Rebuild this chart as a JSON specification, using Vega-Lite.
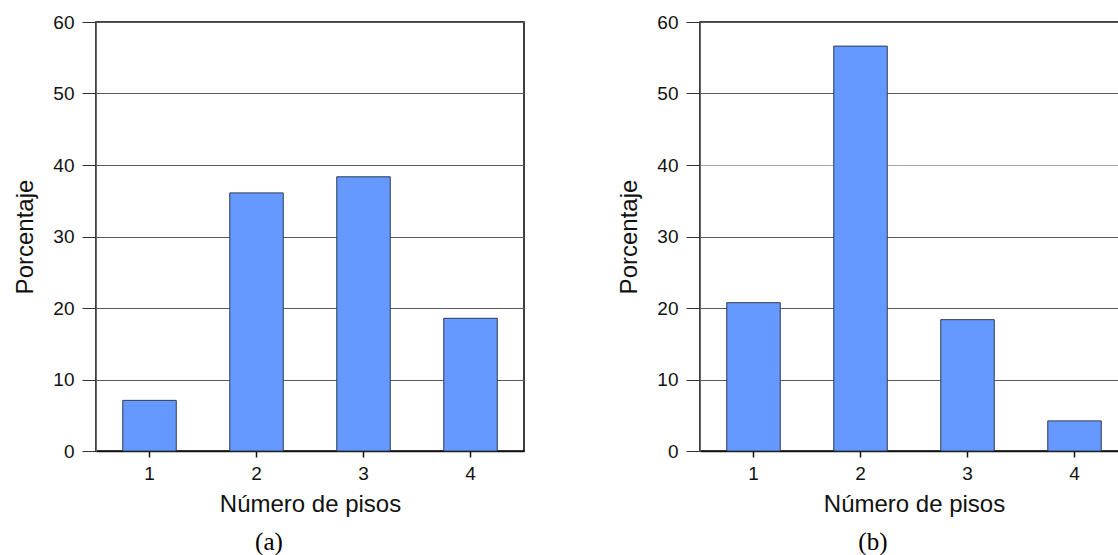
{
  "$schema": "https://vega.github.io/schema/vega-lite/v6.json",
  "background": "white",
  "padding": {"left": 13, "top": 12, "right": 0, "bottom": 0},
  "spacing": 176,
  "bounds": "flush",
  "datasets": {
    "a": [
      {"pisos": "1", "pct": 7.08},
      {"pisos": "2", "pct": 36.1},
      {"pisos": "3", "pct": 38.35},
      {"pisos": "4", "pct": 18.56}
    ],
    "b": [
      {"pisos": "1", "pct": 20.74},
      {"pisos": "2", "pct": 56.63},
      {"pisos": "3", "pct": 18.37},
      {"pisos": "4", "pct": 4.21}
    ]
  },
  "config": {
    "view": {"stroke": "#000000", "strokeWidth": 1.5},
    "axis": {
      "labelFont": "Liberation Sans",
      "labelFontSize": 19,
      "labelColor": "#111111",
      "titleFont": "Liberation Sans",
      "titleFontSize": 24,
      "titleFontWeight": "normal",
      "titleColor": "#111111"
    },
    "axisY": {
      "tickSize": 14,
      "labelPadding": 8,
      "tickColor": "#333333",
      "domainColor": "#666666",
      "gridColor": "#5a5a5a",
      "gridOpacity": 1,
      "titlePadding": 15
    },
    "axisX": {
      "tickSize": 6,
      "labelPadding": 7,
      "labelAngle": 0,
      "domainColor": "#111111",
      "domainWidth": 1.5,
      "tickColor": "#111111",
      "tickWidth": 1.5,
      "titlePadding": 9,
      "grid": false
    },
    "title": {
      "font": "Liberation Serif",
      "fontSize": 25,
      "fontWeight": "normal",
      "color": "#000000",
      "orient": "bottom",
      "anchor": "middle",
      "frame": "bounds",
      "offset": 14
    }
  },
  "hconcat": [
    {
      "width": 428,
      "height": 429,
      "title": "(a)",
      "data": {"name": "a"},
      "mark": {"type": "bar", "fill": "#6699ff", "stroke": "#2d3a55", "strokeWidth": 1},
      "encoding": {
        "x": {
          "field": "pisos",
          "type": "ordinal",
          "title": "Número de pisos",
          "scale": {"paddingInner": 0.5, "paddingOuter": 0.25}
        },
        "y": {
          "field": "pct",
          "type": "quantitative",
          "title": "Porcentaje",
          "scale": {"domain": [0, 60], "nice": false},
          "axis": {"values": [0, 10, 20, 30, 40, 50, 60]}
        }
      }
    },
    {
      "width": 428,
      "height": 429,
      "title": "(b)",
      "data": {"name": "b"},
      "mark": {"type": "bar", "fill": "#6699ff", "stroke": "#2d3a55", "strokeWidth": 1},
      "encoding": {
        "x": {
          "field": "pisos",
          "type": "ordinal",
          "title": "Número de pisos",
          "scale": {"paddingInner": 0.5, "paddingOuter": 0.25}
        },
        "y": {
          "field": "pct",
          "type": "quantitative",
          "title": "Porcentaje",
          "scale": {"domain": [0, 60], "nice": false},
          "axis": {
            "values": [0, 10, 20, 30, 40, 50, 60],
            "gridColor": {"condition": {"test": "datum.value === 40", "value": "#a8a8a8"}, "value": "#5a5a5a"}
          }
        }
      }
    }
  ]
}
